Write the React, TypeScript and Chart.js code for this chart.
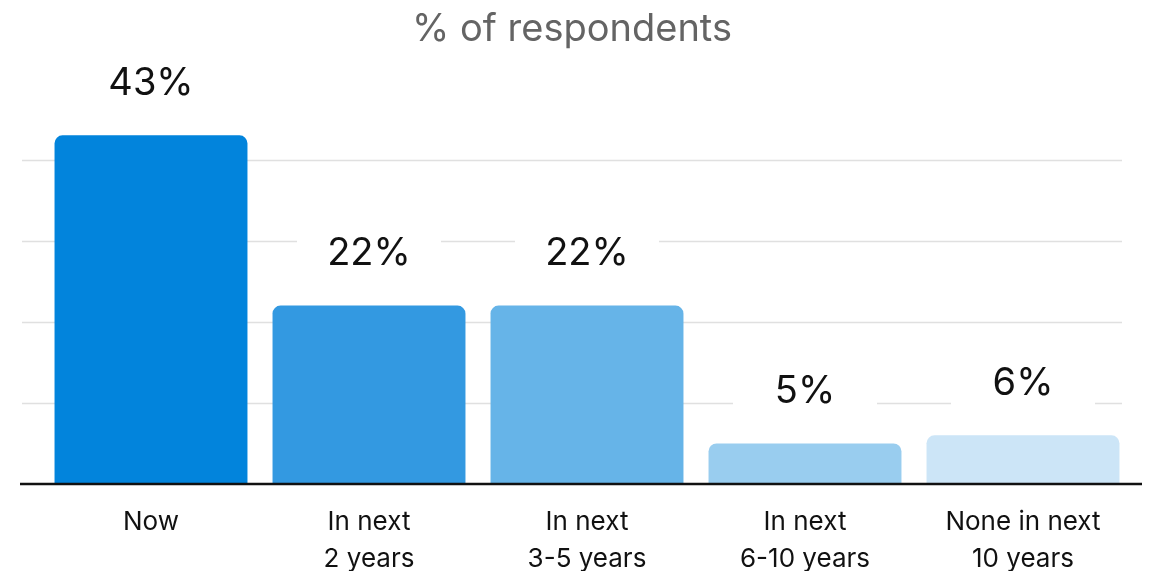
import React, { useEffect, useRef } from "react";
import { Chart, registerables } from "chart.js";

Chart.register(...registerables);

const categories: string[][] = [
  ["Now"],
  ["In next", "2 years"],
  ["In next", "3-5 years"],
  ["In next", "6-10 years"],
  ["None in next", "10 years"],
];
const values = [43, 22, 22, 5, 6];
const valueLabels = ["43%", "22%", "22%", "5%", "6%"];
const barColors = ["#0284DC", "#3399E1", "#66B4E8", "#99CDEF", "#CCE5F7"];
const gridValues = [10, 20, 30, 40];
const yMax = 50;
const titleText = "% of respondents";

const FONT = "Inter, 'Liberation Sans', sans-serif";

const decor = {
  id: "decor",
  beforeDatasetsDraw(chart: any) {
    const { ctx, chartArea, scales } = chart;
    ctx.save();
    ctx.strokeStyle = "#e0e0e0";
    ctx.lineWidth = 1.5;
    gridValues.forEach((v) => {
      const y = Math.round(scales.y.getPixelForValue(v)) + 0.5;
      ctx.beginPath();
      ctx.moveTo(chartArea.left - 20, y);
      ctx.lineTo(chartArea.right - 10, y);
      ctx.stroke();
    });
    const meta = chart.getDatasetMeta(0);
    ctx.fillStyle = "#ffffff";
    meta.data.forEach((bar: any) => {
      const cy = bar.y - 52;
      ctx.fillRect(bar.x - 72, cy - 24, 144, 48);
    });
    ctx.restore();
  },
  afterDatasetsDraw(chart: any) {
    const { ctx, chartArea, scales } = chart;
    ctx.save();
    const y0 = scales.y.getPixelForValue(0);
    ctx.strokeStyle = "#111111";
    ctx.lineWidth = 2.5;
    ctx.beginPath();
    ctx.moveTo(chartArea.left - 22, y0);
    ctx.lineTo(chartArea.right + 10, y0);
    ctx.stroke();
    const meta = chart.getDatasetMeta(0);
    ctx.fillStyle = "#111111";
    ctx.font = `38px ${FONT}`;
    ctx.textAlign = "center";
    ctx.textBaseline = "middle";
    meta.data.forEach((bar: any, i: number) => {
      ctx.fillText(valueLabels[i], bar.x, bar.y - 52);
    });
    ctx.restore();
  },
};

export default function App() {
  const ref = useRef<HTMLCanvasElement | null>(null);
  useEffect(() => {
    document.body.style.margin = "0";
    const chart = new Chart(ref.current as HTMLCanvasElement, {
      type: "bar",
      data: {
        labels: categories,
        datasets: [
          {
            data: values,
            backgroundColor: barColors,
            borderRadius: 8,
            borderSkipped: "start",
            barPercentage: 0.885,
            categoryPercentage: 1,
          },
        ],
      },
      options: {
        responsive: false,
        animation: false,
        layout: { padding: { left: 12, right: 19 } },
        plugins: {
          legend: { display: false },
          tooltip: { enabled: false },
          title: {
            display: true,
            text: titleText,
            color: "#646464",
            font: { family: FONT, size: 38, weight: "normal" },
            padding: { top: 7, bottom: 26 },
          },
        },
        scales: {
          x: {
            grid: { display: false },
            border: { display: false },
            ticks: {
              color: "#111111",
              font: { family: FONT, size: 26, lineHeight: 1.42 },
              padding: 12,
              maxRotation: 0,
              autoSkip: false,
            },
            afterFit(scale: any) {
              scale.height = 87;
            },
          },
          y: {
            display: true,
            min: 0,
            max: yMax,
            grid: { display: false },
            border: { display: false },
            ticks: { display: false },
            afterFit(scale: any) {
              scale.width = 30;
            },
          },
        },
      },
      plugins: [decor],
    });
    return () => chart.destroy();
  }, []);
  return (
    <div style={{ width: 1151, height: 571, background: "#fff" }}>
      <canvas ref={ref} width={1151} height={571} />
    </div>
  );
}
